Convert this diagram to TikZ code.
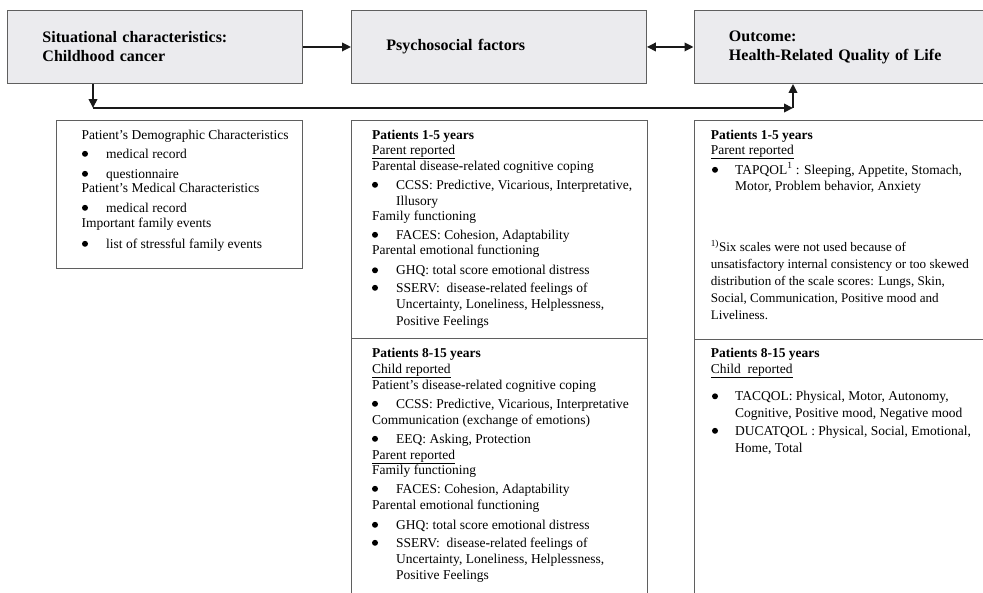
\documentclass[tikz,border=0pt]{standalone}
\usepackage{fontspec}
\setmainfont{Liberation Serif}
\usetikzlibrary{arrows.meta}
\definecolor{boxfill}{RGB}{235,235,238}
\definecolor{boxline}{RGB}{95,95,95}
\definecolor{conn}{RGB}{25,25,25}
\newcommand\tline[4]{\node[txt] (#1) at (#2,#3) {#4};}
\newcommand\fline[4]{\node[txt,font=\fontsize{13.1}{15}\selectfont] (#1) at (#2,#3) {#4};}
\newcommand\bdot[3]{\node[bdotstyle] (#1) at (#2,#3-4.2) {};}
\newcommand\bh{\textbf{-}}
\begin{document}
\begin{tikzpicture}[x=1pt,y=-1pt,
  hdr/.style={draw=boxline,line width=0.9pt,fill=boxfill,anchor=north west,
    minimum height=73pt,inner xsep=35pt,inner ysep=0pt,align=left,
    font=\fontsize{16}{19}\selectfont\bfseries},
  panel/.style={draw=boxline,line width=0.9pt,anchor=north west,inner sep=0pt},
  txt/.style={anchor=base west,inner sep=0pt,font=\fontsize{13.5}{16}\selectfont},
  bdotstyle/.style={circle,fill=black,inner sep=0pt,minimum size=6pt},
  conn/.style={draw=conn,line width=2pt,-{Triangle[length=9pt,width=8.5pt]}},
  dconn/.style={draw=conn,line width=2pt,{Triangle[length=9pt,width=8.5pt]}-{Triangle[length=9pt,width=8.5pt]}}]
\useasboundingbox (0,0) rectangle (983,592);
\clip (0,0) rectangle (983,592);
% header boxes
\node[hdr,minimum width=295pt,text width=225pt] (b1) at (7,10) {Situational characteristics:\\Childhood cancer};
\node[hdr,minimum width=295pt,text width=225pt] (b2) at (351,10) {Psychosocial factors};
\node[hdr,minimum width=310pt,text width=240pt,inner xsep=35pt] (b3) at (693.5,10) {Outcome:\\Health-Related Quality of Life};
% connectors
\coordinate (j1) at (93,108);
\coordinate (j2) at (793,108);
\draw[conn] (b1.east) -- (b2.west);
\draw[dconn] (b2.east) -- (b3.west);
\draw[conn] (b1.south -| j1) -- (j1);
\draw[conn] (j1) -- (j2);
\draw[conn] (j2) -- (b3.south -| j2);
% panels
\node[panel,minimum width=246pt,minimum height=148pt] (p4) at (56,120) {};
\node[panel,minimum width=296pt,minimum height=218pt] (p5a) at (351,120) {};
\node[panel,minimum width=296pt,minimum height=270pt] (p5b) at (351,338) {};
\node[panel,minimum width=310pt,minimum height=219pt] (p6a) at (693.5,120) {};
\node[panel,minimum width=310pt,minimum height=270pt] (p6b) at (693.5,339) {};
% panel 4
\tline{a1}{81.5}{139}{Patient’s Demographic Characteristics}
\bdot{ad1}{85}{158}\tline{a2}{106}{158}{medical record}
\bdot{ad2}{85}{178}\tline{a3}{106}{178}{questionnaire}
\tline{a4}{81.5}{192}{Patient’s Medical Characteristics}
\bdot{ad3}{85}{212}\tline{a5}{106}{212}{medical record}
\tline{a6}{81.5}{227}{Important family events}
\bdot{ad4}{85}{248}\tline{a7}{106}{248}{list of stressful family events}
% panel 5 upper
\tline{c1}{372}{139}{\textbf{Patients 1-5 years}}
\tline{c2}{372}{154}{\underline{Parent reported}}
\tline{c3}{372}{170}{Parental disease\bh related cognitive coping}
\bdot{cd1}{375}{189}\tline{c4}{396}{189}{CCSS: Predictive, Vicarious, Interpretative,}
\tline{c5}{396}{205}{Illusory}
\tline{c6}{372}{220}{Family functioning}
\bdot{cd2}{375}{239}\tline{c7}{396}{239}{FACES: Cohesion, Adaptability}
\tline{c8}{372}{254.5}{Parental emotional functioning}
\bdot{cd3}{375}{274.5}\tline{c9}{396}{274.5}{GHQ: total score emotional distress}
\bdot{cd4}{375}{292}\tline{c10}{396}{292}{SSERV:\ \ disease\bh related feelings of}
\tline{c11}{396}{308.5}{Uncertainty, Loneliness, Helplessness,}
\tline{c12}{396}{325}{Positive Feelings}
% panel 5 lower
\tline{e1}{372}{357.7}{\textbf{Patients 8-15 years}}
\tline{e2}{372}{373}{\underline{Child reported}}
\tline{e3}{372}{389}{Patient’s disease\bh related cognitive coping}
\bdot{ed1}{375}{408}\tline{e4}{396}{408}{CCSS: Predictive, Vicarious, Interpretative}
\tline{e5}{372}{424}{Communication (exchange of emotions)}
\bdot{ed2}{375}{443}\tline{e6}{396}{443}{EEQ: Asking, Protection}
\tline{e7}{372}{459}{\underline{Parent reported}}
\tline{e8}{372}{474}{Family functioning}
\bdot{ed3}{375}{493}\tline{e9}{396}{493}{FACES: Cohesion, Adaptability}
\tline{e10}{372}{509}{Parental emotional functioning}
\bdot{ed4}{375}{529}\tline{e11}{396}{529}{GHQ: total score emotional distress}
\bdot{ed5}{375}{547}\tline{e12}{396}{547}{SSERV:\ \ disease\bh related feelings of}
\tline{e13}{396}{563}{Uncertainty, Loneliness, Helplessness,}
\tline{e14}{396}{579.5}{Positive Feelings}
% panel 6 upper
\tline{g1}{710.7}{139}{\textbf{Patients 1-5 years}}
\tline{g2}{710.7}{154}{\underline{Parent reported}}
\bdot{gd1}{715}{174}\tline{g3}{735}{174}{TAPQOL\textsuperscript{1} : Sleeping, Appetite, Stomach,}
\tline{g4}{735}{190}{Motor, Problem behavior, Anxiety}
\fline{g5}{710.7}{251}{\textsuperscript{1)}Six scales were not used because of}
\fline{g6}{710.7}{268}{unsatisfactory internal consistency or too skewed}
\fline{g7}{710.7}{285}{distribution of the scale scores: Lungs, Skin,}
\fline{g8}{710.7}{302}{Social, Communication, Positive mood and}
\fline{g9}{710.7}{319}{Liveliness.}
% panel 6 lower
\tline{h1}{710.7}{357.7}{\textbf{Patients 8-15 years}}
\tline{h2}{710.7}{373}{\underline{Child\ \ reported}}
\bdot{hd1}{715}{400.5}\tline{h3}{735}{400.5}{TACQOL: Physical, Motor, Autonomy,}
\tline{h4}{735}{417}{Cognitive, Positive mood, Negative mood}
\bdot{hd2}{715}{435}\tline{h5}{735}{435}{DUCATQOL : Physical, Social, Emotional,}
\tline{h6}{735}{452}{Home, Total}
\end{tikzpicture}
\end{document}
